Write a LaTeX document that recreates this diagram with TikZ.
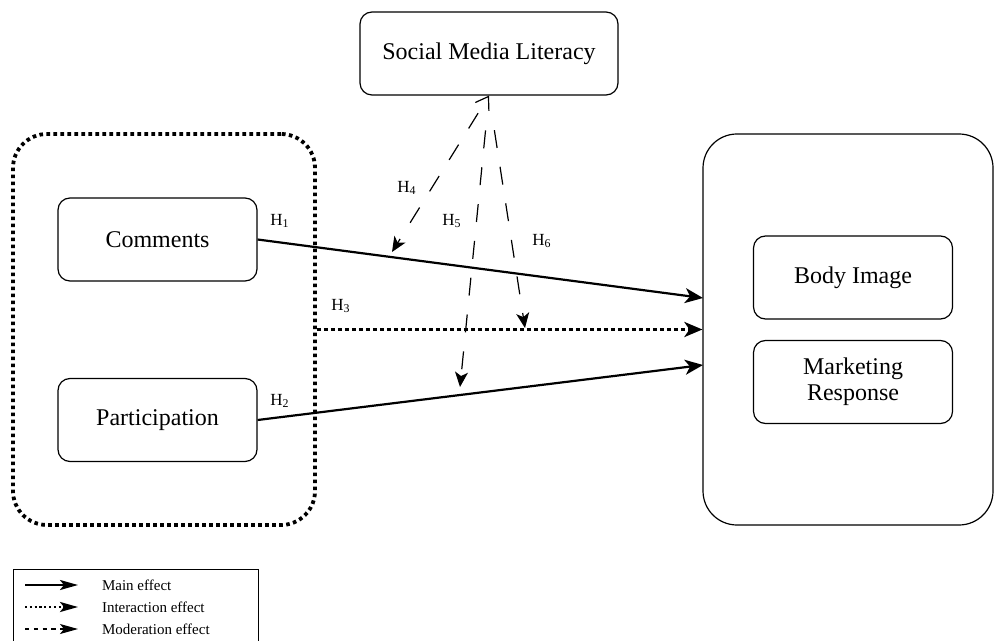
\documentclass[tikz,border=0pt]{standalone}
\usepackage{fontspec}
\setmainfont{Liberation Serif}
\usepackage{tikz}
\usetikzlibrary{arrows.meta}
\tikzset{>={Stealth[length=9pt,width=7.5pt,inset=2.5pt]}}
\tikzset{box/.style={draw,line width=0.6pt,rounded corners=6pt,minimum width=99.5pt,minimum height=41.5pt,align=center,font=\fontsize{12}{14}\selectfont},
  hyp/.style={font=\fontsize{8.5}{10}\selectfont},
  main/.style={line width=1.1pt},
  inter/.style={line width=1.9pt,dash pattern=on 1.8pt off 1.7pt},
  modline/.style={line width=0.6pt,dash pattern=on 9pt off 9.5pt,dash phase=9pt},
  modtip/.style={-{Stealth[length=7.5pt,width=6.5pt,inset=2pt]}},
  legtext/.style={anchor=west,font=\fontsize{7.5}{9}\selectfont}}

\begin{document}
\begin{tikzpicture}[x=0.5pt,y=-0.5pt]
      \useasboundingbox (0,0) rectangle (994,641);
      % groups
        \node[draw,inter,rounded corners=17pt,minimum width=151pt,minimum height=195.5pt] (inputs) at (164,329.5) {};
        \node[draw,line width=0.6pt,rounded corners=17pt,minimum width=145pt,minimum height=195.5pt] (outcome) at (848,329.5) {};
      % boxes
        \node[box,minimum width=129pt] (sml) at (489,53.5) {Social Media Literacy};
        \node[box] (com) at (157.5,239.5) {Comments};
        \node[box] (par) at (157.5,420) {Participation};
        \node[box] (body) at (853,277.5) {Body Image};
        \node[box] (mkt) at (853,382) {Marketing\\[-1pt]Response};
      % ends
        \coordinate (h1end) at (703,298);
        \coordinate (h2end) at (703,365);
        \coordinate (h4end) at (392,252);
        \coordinate (h5end) at (460,387);
        \coordinate (h6end) at (525,328);
      % main and interaction effects
        \draw[->,main] (com.east)--(h1end);
        \draw[->,main] (par.east)--(h2end);
        \draw[->,inter] (inputs.east)--(outcome.west);
      % moderation
        \draw[modline,{Straight Barb[length=6pt,width=8pt]}-{Stealth[length=7.5pt,width=6.5pt,inset=2pt]}] (sml.south)--(h4end);
        \draw[modline,modtip,shorten <=8pt] (sml.south)--(h5end);
        \draw[modline,modtip,shorten <=8pt] (sml.south)--(h6end);
      % labels
        \node[hyp] (l1) at (280,221) {H\textsubscript{1}};
        \node[hyp] (l2) at (280,401) {H\textsubscript{2}};
        \node[hyp] (l3) at (341,306) {H\textsubscript{3}};
        \node[hyp] (l4) at (407,188) {H\textsubscript{4}};
        \node[hyp] (l5) at (452,221) {H\textsubscript{5}};
        \node[hyp] (l6) at (542,241) {H\textsubscript{6}};
      % legend
        \node[draw,line width=0.6pt,anchor=north west,minimum width=122.5pt,minimum height=45pt] (legend) at (13,569) {};
        \coordinate (la1) at (25,585); \coordinate (lb1) at (78,585);
        \coordinate (la2) at (25,607); \coordinate (lb2) at (78,607);
        \coordinate (la3) at (25,629); \coordinate (lb3) at (78,629);
        \draw[main,-{Stealth[length=9pt,width=5pt,inset=2pt]}] (la1)--(lb1);
        \draw[line width=1.2pt,dash pattern=on 1.1pt off 1.3pt,-{Stealth[length=9pt,width=5pt,inset=2pt]}] (la2)--(lb2);
        \draw[line width=0.6pt,dash pattern=on 2.2pt off 2.2pt,-{Stealth[length=9pt,width=5pt,inset=2pt]}] (la3)--(lb3);
        \node[legtext] (t1) at (95,585) {Main effect};
        \node[legtext] (t2) at (95,607) {Interaction effect};
        \node[legtext] (t3) at (95,629) {Moderation effect};
       \end{tikzpicture}
\end{document}
